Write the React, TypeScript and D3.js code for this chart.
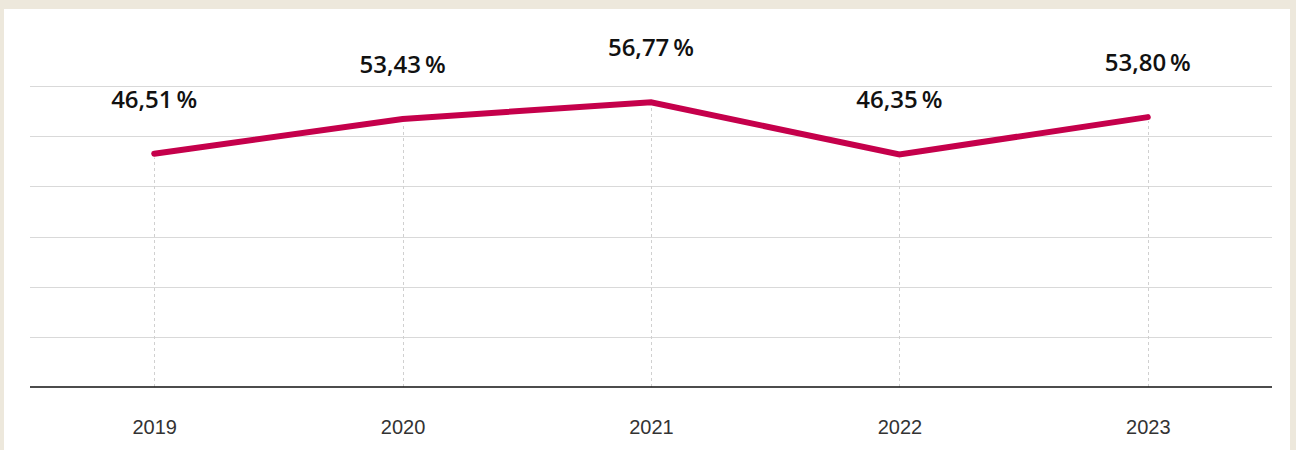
import React, { useEffect, useRef } from 'react'
import * as d3 from 'd3'

const years = ['2019', '2020', '2021', '2022', '2023']
const shares = [46.51, 53.43, 56.77, 46.35, 53.8]
const gridTicks = [0, 10, 20, 30, 40, 50, 60]

const fmt = (v: number) => v.toFixed(2).replace('.', ',') + '\u2009%'

const LineChart = () => {
    const ref = useRef<SVGSVGElement>(null)

    useEffect(() => {
        drawChart()
    }, [])

    const drawChart = () => {
        const width = 1296
        const height = 450
        const left = 30
        const right = 1272
        const top = 86
        const bottom = 387

        const svg = d3.select(ref.current)
        svg.selectAll('*').remove()

        svg.append('rect')
            .attr('width', width)
            .attr('height', height)
            .attr('fill', '#ede8dc')
        svg.append('rect')
            .attr('x', 4)
            .attr('y', 9)
            .attr('width', 1286)
            .attr('height', height - 9)
            .attr('fill', '#ffffff')

        const xScale = d3.scalePoint<string>()
            .domain(years)
            .range([left, right])
            .padding(0.5)
        const yScale = d3.scaleLinear()
            .domain([0, 60])
            .range([bottom, top])

        // horizontal grid
        svg.append('g')
            .selectAll('line')
            .data(gridTicks.filter(t => t > 0))
            .enter()
            .append('line')
            .attr('x1', left)
            .attr('x2', right)
            .attr('y1', d => Math.round(yScale(d)) + 0.5)
            .attr('y2', d => Math.round(yScale(d)) + 0.5)
            .attr('stroke', '#d9d9d9')
            .attr('stroke-width', 1)

        // vertical dashed guides
        svg.append('g')
            .selectAll('line')
            .data(years)
            .enter()
            .append('line')
            .attr('x1', d => Math.round(xScale(d)!) + 0.5)
            .attr('x2', d => Math.round(xScale(d)!) + 0.5)
            .attr('y1', bottom)
            .attr('y2', (d, i) => yScale(shares[i]) + 4)
            .attr('stroke', '#d0d0d0')
            .attr('stroke-width', 1)
            .attr('stroke-dasharray', '3,3')

        // x axis
        const xAxis = d3.axisBottom(xScale).tickSize(0).tickPadding(33)
        const gx = svg.append('g')
            .attr('transform', `translate(0, ${bottom})`)
            .call(xAxis)
        gx.select('.domain')
            .attr('d', `M${left},0H${right}`)
            .attr('stroke', '#111')
            .attr('stroke-width', 1.5)
        gx.selectAll('text')
            .attr('font-family', '"Liberation Sans", Arial, sans-serif')
            .attr('font-size', 20)
            .attr('fill', '#333')

        const line = d3.line<number>()
            .x((d, i) => xScale(years[i])!)
            .y(d => yScale(d))

        svg.append('path')
            .datum(shares)
            .attr('d', line)
            .attr('fill', 'none')
            .attr('stroke', '#c5004b')
            .attr('stroke-width', 6)
            .attr('stroke-linecap', 'round')
            .attr('stroke-linejoin', 'miter')

        svg.append('g')
            .selectAll('text')
            .data(shares)
            .enter()
            .append('text')
            .text(d => fmt(d))
            .attr('x', (d, i) => xScale(years[i])!)
            .attr('y', d => yScale(d) - 46)
            .attr('text-anchor', 'middle')
            .attr('font-family', '"Open Sans", sans-serif')
            .attr('font-weight', 600)
            .attr('font-size', 24)
            .attr('fill', '#111')
    }

    return (
        <svg ref={ref} width={1296} height={450} style={{ display: 'block', position: 'absolute', left: 0, top: 0 }}></svg>
    )
}

export default function App() {
    return <LineChart />
}
